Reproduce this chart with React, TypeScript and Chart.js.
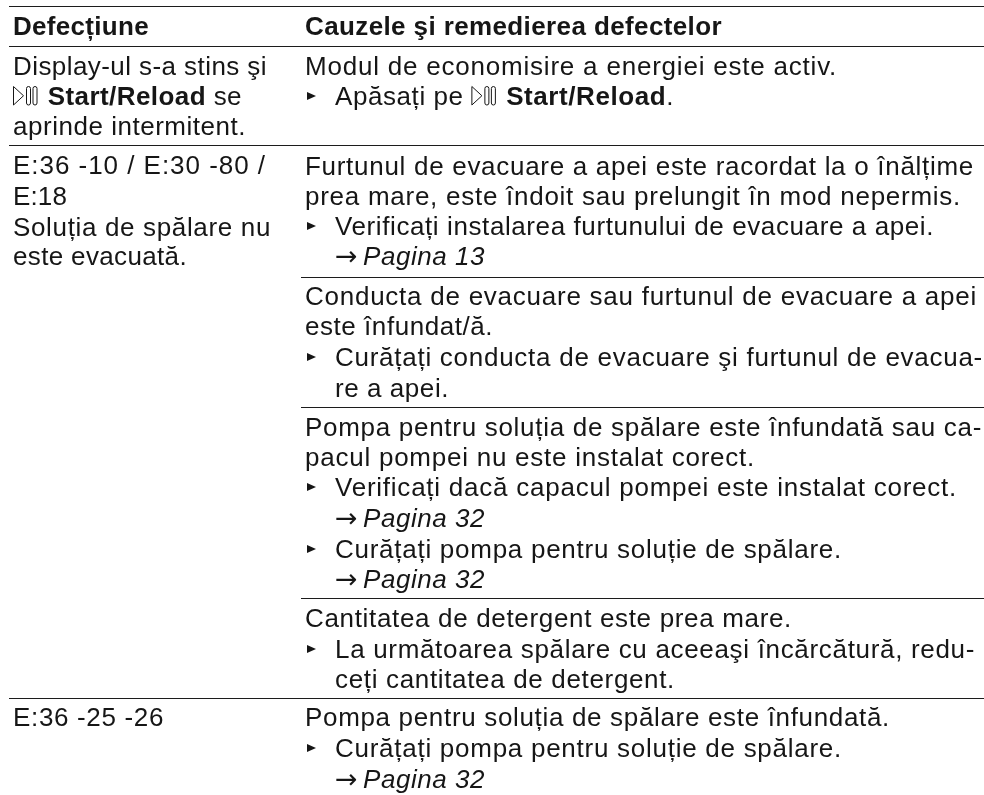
import React, { useEffect, useRef } from "react";
import { Chart, registerables } from "chart.js";

Chart.register(...registerables);

// ---- Table content. Markup: **bold**, __italic__, {i} = play/pause symbol,
// leading ">" = bullet line, leading "~" = line indented under a bullet.
const headers = ["Defecțiune", "Cauzele şi remedierea defectelor"];
const faultLines = [
  "Display-ul s-a stins şi",
  "{i} **Start/Reload** se",
  "aprinde intermitent.",
  "E:36 -10 / E:30 -80 /",
  "E:18",
  "Soluția de spălare nu",
  "este evacuată.",
  "E:36 -25 -26",
];
const causeLines = [
  "Modul de economisire a energiei este activ.",
  ">Apăsați pe {i} **Start/Reload**.",
  "Furtunul de evacuare a apei este racordat la o înălțime",
  "prea mare, este îndoit sau prelungit în mod nepermis.",
  ">Verificați instalarea furtunului de evacuare a apei.",
  "~→__Pagina 13__",
  "Conducta de evacuare sau furtunul de evacuare a apei",
  "este înfundat/ă.",
  ">Curățați conducta de evacuare şi furtunul de evacua-",
  "~re a apei.",
  "Pompa pentru soluția de spălare este înfundată sau ca-",
  "pacul pompei nu este instalat corect.",
  ">Verificați dacă capacul pompei este instalat corect.",
  "~→__Pagina 32__",
  ">Curățați pompa pentru soluție de spălare.",
  "~→__Pagina 32__",
  "Cantitatea de detergent este prea mare.",
  ">La următoarea spălare cu aceeaşi încărcătură, redu-",
  "~ceți cantitatea de detergent.",
  "Pompa pentru soluția de spălare este înfundată.",
  ">Curățați pompa pentru soluție de spălare.",
  "~→__Pagina 32__",
];

// ---- Layout, in the units of the hidden linear scales (page pixels).
const fullRules = [6.5, 46.5, 145.5, 698.5];
const innerRules = [277.5, 407.5, 598.5];
const ruleLeft = 9;
const innerLeft = 301;
const ruleRight = 984;
const headerBaseline = 35;
const headerEnds = [149, 722];
const faultBaselines = [75, 105, 135, 174, 205, 236, 265, 726];
const faultEnds = [267, 242, 246, 266, 67, 271, 187, 164];
const causeBaselines = [
  75, 105, 175, 205, 235, 265, 305, 335, 366, 397, 436, 466, 496, 527, 558, 588, 627, 658, 688, 726, 757, 788,
];
const causeEnds = [
  837, 674, 974, 961, 934, 485, 977, 493, 983, 449, 982, 755, 957, 485, 842, 485, 792, 975, 675, 890, 842, 485,
];
const faultX = 13;
const causeX = 305;
const indentX = 335;

const FONT = '"Liberation Sans", Arial, sans-serif';
const SIZE = 26;
const INK = "#161616";
const ICON_ADVANCE = 27;
const ARROW_ADVANCE = 28;

function drawIcon(ctx: CanvasRenderingContext2D, x: number, y: number) {
  ctx.save();
  ctx.strokeStyle = INK;
  ctx.lineWidth = 1;
  ctx.beginPath();
  ctx.moveTo(x + 0.5, y - 18.5);
  ctx.lineTo(x + 10.5, y - 9.25);
  ctx.lineTo(x + 0.5, y);
  ctx.closePath();
  ctx.stroke();
  for (const bx of [13.5, 20]) {
    ctx.beginPath();
    ctx.roundRect(x + bx, y - 18.5, 4, 18.5, 2);
    ctx.stroke();
  }
  ctx.restore();
}

function drawBullet(ctx: CanvasRenderingContext2D, x: number, y: number) {
  ctx.save();
  ctx.fillStyle = INK;
  ctx.beginPath();
  ctx.moveTo(x, y - 13);
  ctx.lineTo(x + 9, y - 9);
  ctx.lineTo(x, y - 5);
  ctx.closePath();
  ctx.fill();
  ctx.restore();
}

type Run = { kind: "text" | "icon" | "arrow"; text: string; style: string };

function parseRuns(markup: string, base: string): Run[] {
  const parts = markup.split(/(\*\*.+?\*\*|__.+?__|\{i\}|→)/).filter(Boolean);
  return parts.map((p) => {
    if (p === "{i}") return { kind: "icon", text: "", style: "" };
    if (p === "→") return { kind: "arrow", text: p, style: "" };
    if (p.startsWith("**")) return { kind: "text", text: p.slice(2, -2), style: "bold " };
    if (p.startsWith("__")) return { kind: "text", text: p.slice(2, -2), style: "italic " };
    return { kind: "text", text: p, style: base };
  });
}

// Draws a line so that it ends where the reference line ends, by tracking the letters.
function drawRuns(ctx: any, markup: string, x0: number, y: number, end: number, base = "") {
  const runs = parseRuns(markup, base);
  ctx.fillStyle = INK;
  ctx.textBaseline = "alphabetic";
  ctx.textAlign = "left";
  ctx.letterSpacing = "0px";
  let natural = 0;
  let chars = 0;
  for (const r of runs) {
    if (r.kind === "icon") natural += ICON_ADVANCE;
    else if (r.kind === "arrow") natural += ARROW_ADVANCE;
    else {
      ctx.font = `${r.style}${SIZE}px ${FONT}`;
      natural += ctx.measureText(r.text).width;
      chars += r.text.length;
    }
  }
  const ls = chars > 0 ? (end - x0 - natural) / chars : 0;
  let x = x0;
  for (const r of runs) {
    if (r.kind === "icon") {
      drawIcon(ctx, x, y);
      x += ICON_ADVANCE;
    } else if (r.kind === "arrow") {
      ctx.letterSpacing = "0px";
      ctx.font = `27px "DejaVu Sans"`;
      ctx.fillText(r.text, x, y);
      x += ARROW_ADVANCE;
    } else {
      ctx.font = `${r.style}${SIZE}px ${FONT}`;
      ctx.letterSpacing = `${ls}px`;
      ctx.fillText(r.text, x, y);
      x += ctx.measureText(r.text).width;
    }
  }
  ctx.letterSpacing = "0px";
}

const tablePlugin = {
  id: "tableText",
  afterDatasetsDraw(chart: any) {
    const { ctx, scales } = chart;
    const X = (v: number) => scales.x.getPixelForValue(v);
    const Y = (v: number) => scales.y.getPixelForValue(v);
    ctx.save();
    drawRuns(ctx, headers[0], X(faultX), Y(headerBaseline), X(headerEnds[0]), "bold ");
    drawRuns(ctx, headers[1], X(causeX), Y(headerBaseline), X(headerEnds[1]), "bold ");
    faultLines.forEach((l, i) => drawRuns(ctx, l, X(faultX), Y(faultBaselines[i]), X(faultEnds[i])));
    causeLines.forEach((l, i) => {
      const y = Y(causeBaselines[i]);
      const end = X(causeEnds[i]);
      if (l[0] === ">") {
        drawBullet(ctx, X(causeX + 2), y);
        drawRuns(ctx, l.slice(1), X(indentX), y, end);
      } else if (l[0] === "~") {
        drawRuns(ctx, l.slice(1), X(indentX), y, end);
      } else {
        drawRuns(ctx, l, X(causeX), y, end);
      }
    });
    ctx.restore();
  },
};

const rule = (y: number, from: number) => ({
  type: "line" as const,
  data: [
    { x: from, y },
    { x: ruleRight, y },
  ],
  borderColor: "#1c1c1c",
  borderWidth: 1.2,
  pointRadius: 0,
  fill: false,
});

export default function App() {
  const ref = useRef<HTMLCanvasElement>(null);
  useEffect(() => {
    const chart = new Chart(ref.current!, {
      type: "line",
      data: {
        datasets: [...fullRules.map((y) => rule(y, ruleLeft)), ...innerRules.map((y) => rule(y, innerLeft))],
      },
      options: {
        animation: false,
        responsive: false,
        parsing: false,
        layout: { padding: 0 },
        plugins: { legend: { display: false }, tooltip: { enabled: false }, title: { display: false } },
        scales: {
          x: { type: "linear", display: false, min: 0, max: 984 },
          y: { type: "linear", display: false, min: 0, max: 795, reverse: true },
        },
      },
      plugins: [tablePlugin],
    } as any);
    return () => chart.destroy();
  }, []);
  return (
    <canvas
      ref={ref}
      width={984}
      height={795}
      style={{ position: "fixed", left: 0, top: 0, width: 984, height: 795, display: "block", background: "#fff" }}
    />
  );
}
